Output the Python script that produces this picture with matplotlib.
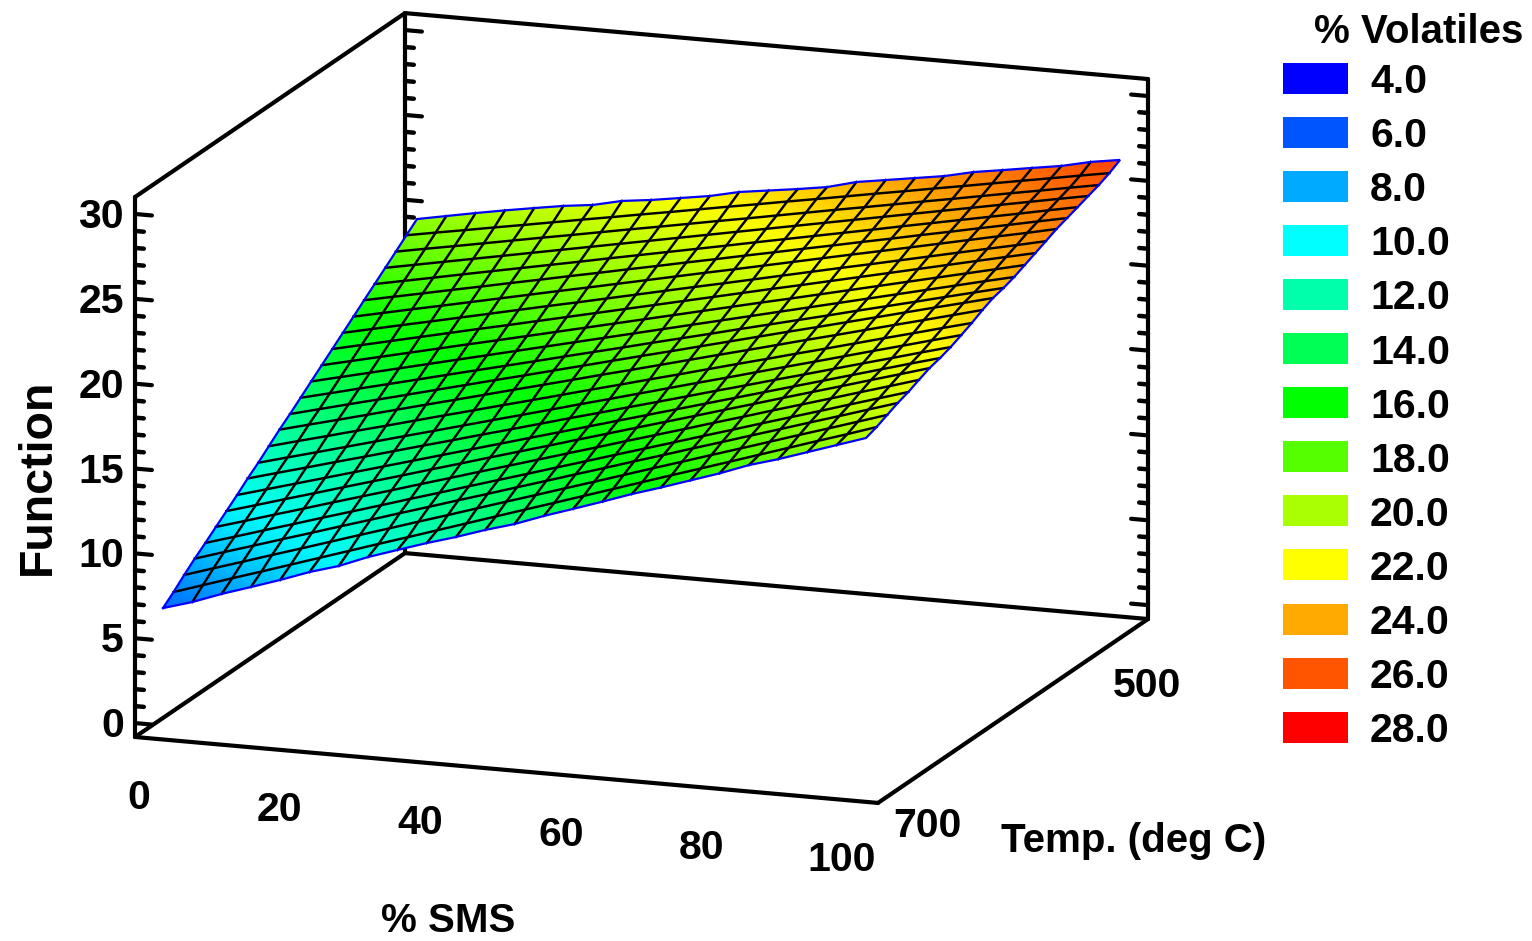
import numpy as np
import matplotlib
matplotlib.use('Agg')
import matplotlib.pyplot as plt
from matplotlib.colors import LinearSegmentedColormap, Normalize
from matplotlib.patches import Rectangle

# legend
legend_levels = [4.0, 6.0, 8.0, 10.0, 12.0, 14.0, 16.0, 18.0, 20.0, 22.0, 24.0, 26.0, 28.0]
legend_colors = ['#0000FF', '#0055FF', '#00AAFF', '#00FFFF', '#00FFAA', '#00FF55', '#00FF00',
                 '#55FF00', '#AAFF00', '#FFFF00', '#FFAA00', '#FF5500', '#FF0000']

sms_ticks = [0, 20, 40, 60, 80, 100]
temp_ticks = [700, 500]
z_ticks = [0, 5, 10, 15, 20, 25, 30]

# estimated surface heights, one row per temperature step, 700 deg C first, %SMS 0 -> 100 along each row
volatiles = [
    [6.56, 7.07, 7.70, 8.26, 8.83, 9.45, 9.96, 10.64, 11.21, 11.77, 12.28, 12.85, 13.35, 13.98, 14.55, 15.13, 15.73, 16.27, 16.84, 17.41, 18.05, 18.55, 19.12, 19.69, 20.26],
    [7.08, 7.64, 8.20, 8.75, 9.31, 9.87, 10.43, 10.99, 11.54, 12.10, 12.66, 13.22, 13.78, 14.33, 14.89, 15.45, 16.01, 16.57, 17.12, 17.68, 18.24, 18.80, 19.36, 19.91, 20.48],
    [7.66, 8.21, 8.75, 9.30, 9.84, 10.39, 10.94, 11.48, 12.03, 12.57, 13.12, 13.67, 14.21, 14.76, 15.30, 15.85, 16.40, 16.94, 17.49, 18.03, 18.58, 19.13, 19.67, 20.22, 20.77],
    [8.20, 8.74, 9.27, 9.81, 10.34, 10.88, 11.41, 11.95, 12.48, 13.02, 13.55, 14.09, 14.62, 15.16, 15.69, 16.23, 16.76, 17.30, 17.83, 18.37, 18.90, 19.44, 19.97, 20.51, 21.05],
    [8.70, 9.22, 9.75, 10.27, 10.80, 11.32, 11.84, 12.37, 12.89, 13.42, 13.94, 14.46, 14.99, 15.51, 16.04, 16.56, 17.08, 17.61, 18.13, 18.66, 19.18, 19.70, 20.23, 20.75, 21.27],
    [9.22, 9.73, 10.25, 10.76, 11.28, 11.79, 12.30, 12.82, 13.33, 13.85, 14.36, 14.87, 15.39, 15.90, 16.42, 16.93, 17.44, 17.96, 18.47, 18.99, 19.50, 20.01, 20.53, 21.04, 21.56],
    [9.73, 10.23, 10.74, 11.24, 11.75, 12.25, 12.75, 13.26, 13.76, 14.27, 14.77, 15.27, 15.78, 16.28, 16.79, 17.29, 17.79, 18.30, 18.80, 19.31, 19.81, 20.31, 20.82, 21.32, 21.83],
    [10.25, 10.74, 11.23, 11.72, 12.21, 12.70, 13.19, 13.68, 14.17, 14.66, 15.15, 15.64, 16.13, 16.62, 17.11, 17.60, 18.09, 18.58, 19.07, 19.56, 20.05, 20.54, 21.03, 21.52, 22.00],
    [10.80, 11.28, 11.75, 12.23, 12.70, 13.18, 13.66, 14.13, 14.61, 15.08, 15.56, 16.04, 16.51, 16.99, 17.46, 17.94, 18.42, 18.89, 19.37, 19.84, 20.32, 20.80, 21.27, 21.75, 22.22],
    [11.30, 11.77, 12.23, 12.70, 13.17, 13.64, 14.10, 14.57, 15.04, 15.50, 15.97, 16.44, 16.90, 17.37, 17.84, 18.31, 18.77, 19.24, 19.71, 20.17, 20.64, 21.11, 21.57, 22.04, 22.50],
    [11.85, 12.31, 12.76, 13.22, 13.67, 14.13, 14.59, 15.04, 15.50, 15.95, 16.41, 16.87, 17.32, 17.78, 18.23, 18.69, 19.15, 19.60, 20.06, 20.51, 20.97, 21.43, 21.88, 22.34, 22.79],
    [12.40, 12.85, 13.29, 13.74, 14.19, 14.64, 15.08, 15.53, 15.98, 16.42, 16.87, 17.32, 17.76, 18.21, 18.66, 19.11, 19.55, 20.00, 20.45, 20.89, 21.34, 21.79, 22.23, 22.68, 23.13],
    [12.90, 13.34, 13.78, 14.21, 14.65, 15.09, 15.53, 15.97, 16.40, 16.84, 17.28, 17.72, 18.16, 18.59, 19.03, 19.47, 19.91, 20.35, 20.78, 21.22, 21.66, 22.10, 22.54, 22.97, 23.41],
    [13.43, 13.85, 14.28, 14.70, 15.12, 15.55, 15.97, 16.39, 16.81, 17.24, 17.66, 18.08, 18.51, 18.93, 19.35, 19.78, 20.20, 20.62, 21.04, 21.47, 21.89, 22.31, 22.74, 23.16, 23.58],
    [13.97, 14.38, 14.79, 15.20, 15.61, 16.02, 16.43, 16.84, 17.25, 17.66, 18.07, 18.48, 18.89, 19.30, 19.71, 20.12, 20.53, 20.94, 21.35, 21.76, 22.17, 22.58, 22.99, 23.40, 23.80],
    [14.50, 14.90, 15.30, 15.70, 16.10, 16.50, 16.89, 17.29, 17.69, 18.09, 18.49, 18.89, 19.29, 19.69, 20.09, 20.49, 20.88, 21.28, 21.68, 22.08, 22.48, 22.88, 23.28, 23.68, 24.08],
    [15.03, 15.42, 15.81, 16.20, 16.59, 16.98, 17.36, 17.75, 18.14, 18.53, 18.92, 19.31, 19.70, 20.09, 20.48, 20.87, 21.25, 21.64, 22.03, 22.42, 22.81, 23.20, 23.59, 23.98, 24.36],
    [15.56, 15.94, 16.32, 16.69, 17.07, 17.45, 17.83, 18.21, 18.58, 18.96, 19.34, 19.72, 20.10, 20.47, 20.85, 21.23, 21.61, 21.99, 22.36, 22.74, 23.12, 23.50, 23.88, 24.25, 24.64],
    [16.09, 16.46, 16.83, 17.19, 17.56, 17.93, 18.30, 18.67, 19.03, 19.40, 19.77, 20.14, 20.51, 20.87, 21.24, 21.61, 21.98, 22.35, 22.71, 23.08, 23.45, 23.82, 24.19, 24.55, 24.93],
    [16.63, 16.99, 17.34, 17.70, 18.05, 18.41, 18.76, 19.12, 19.47, 19.83, 20.18, 20.54, 20.89, 21.25, 21.60, 21.96, 22.31, 22.67, 23.02, 23.38, 23.73, 24.09, 24.44, 24.80, 25.15],
    [17.16, 17.50, 17.84, 18.19, 18.53, 18.87, 19.21, 19.55, 19.90, 20.24, 20.58, 20.92, 21.26, 21.61, 21.95, 22.29, 22.63, 22.97, 23.32, 23.66, 24.00, 24.34, 24.68, 25.03, 25.37],
    [17.69, 18.02, 18.35, 18.68, 19.01, 19.34, 19.67, 20.00, 20.33, 20.66, 20.99, 21.32, 21.65, 21.98, 22.31, 22.64, 22.97, 23.30, 23.63, 23.96, 24.29, 24.62, 24.95, 25.28, 25.60],
    [18.22, 18.54, 18.85, 19.17, 19.49, 19.81, 20.12, 20.44, 20.76, 21.07, 21.39, 21.71, 22.02, 22.34, 22.66, 22.98, 23.29, 23.61, 23.93, 24.24, 24.56, 24.88, 25.19, 25.51, 25.82],
    [18.76, 19.07, 19.37, 19.68, 19.98, 20.29, 20.60, 20.90, 21.21, 21.51, 21.82, 22.13, 22.43, 22.74, 23.04, 23.35, 23.66, 23.96, 24.27, 24.57, 24.88, 25.19, 25.49, 25.80, 26.10],
    [19.29, 19.62, 19.95, 20.26, 20.55, 20.83, 21.04, 21.43, 21.64, 21.91, 22.18, 22.57, 22.81, 23.05, 23.32, 23.77, 24.04, 24.31, 24.58, 24.97, 25.24, 25.52, 25.79, 26.18, 26.45],
]

# box limits of the 3D frame
sms_lo, sms_hi = -2.84, 102.84
temp_lo, temp_hi = 706.3, 493.7
z_lo, z_hi = -0.82, 31.0


def project(sms, temp, z):
    # fixed oblique view of the statgraphics plot, returns figure pixels
    sms, temp, z = np.asarray(sms, float), np.asarray(temp, float), np.asarray(z, float)
    x = 163 + 7.03 * sms + 1.27 * (700 - temp)
    y = 719.4 + 0.624 * sms - 0.865 * (700 - temp) - 16.97 * z
    return x, y


def edge(ax, a, b, **kw):
    xs, ys = project(*np.array([a, b]).T)
    ax.plot(xs, ys, solid_capstyle='round', **kw)


fig = plt.figure(figsize=(15.32, 9.41), dpi=100)
ax = fig.add_axes([0, 0, 1, 1])
ax.set_xlim(0, 1532)
ax.set_ylim(941, 0)
ax.axis('off')

# frame
frame = dict(color='black', lw=3.0, zorder=1)
edge(ax, (sms_lo, temp_lo, z_lo), (sms_hi, temp_lo, z_lo), **frame)
edge(ax, (sms_lo, temp_hi, z_lo), (sms_hi, temp_hi, z_lo), **frame)
edge(ax, (sms_lo, temp_lo, z_lo), (sms_lo, temp_hi, z_lo), **frame)
edge(ax, (sms_hi, temp_lo, z_lo), (sms_hi, temp_hi, z_lo), **frame)
edge(ax, (sms_lo, temp_hi, z_hi), (sms_hi, temp_hi, z_hi), **frame)
edge(ax, (sms_lo, temp_lo, z_hi), (sms_lo, temp_hi, z_hi), **frame)
edge(ax, (sms_lo, temp_lo, z_lo), (sms_lo, temp_lo, z_hi), **frame)
edge(ax, (sms_lo, temp_hi, z_lo), (sms_lo, temp_hi, z_hi), **frame)
edge(ax, (sms_hi, temp_hi, z_lo), (sms_hi, temp_hi, z_hi), **frame)

# z ticks on the three upright edges
for zt in range(0, 31):
    major = zt % 5 == 0
    ln = 2.4 if major else 1.25
    lw = 3.0 if major else 3.2
    edge(ax, (sms_lo, temp_lo, zt), (sms_lo + ln, temp_lo, zt), color='black', lw=lw, zorder=1)
    edge(ax, (sms_lo, temp_hi, zt), (sms_lo + ln, temp_hi, zt), color='black', lw=lw, zorder=1)
    edge(ax, (sms_hi, temp_hi, zt), (sms_hi - ln, temp_hi, zt), color='black', lw=lw, zorder=1)

# surface
cmap = LinearSegmentedColormap.from_list('volatiles', legend_colors)
norm = Normalize(legend_levels[0], legend_levels[-1])
Z = np.array(volatiles)
sms_nodes = np.linspace(0, 100, Z.shape[1])
temp_nodes = np.linspace(700, 500, Z.shape[0])
S, T = np.meshgrid(sms_nodes, temp_nodes)
X, Y = project(S, T, Z)
ax.pcolormesh(X, Y, Z, shading='gouraud', cmap=cmap, norm=norm, zorder=2)
ax.plot(X[1:-1].T, Y[1:-1].T, color='black', lw=1.75, zorder=3)
ax.plot(X[:, 1:-1], Y[:, 1:-1], color='black', lw=1.75, zorder=3)
rim_x = np.r_[X[0], X[1:, -1], X[-1, -2::-1], X[-2::-1, 0]]
rim_y = np.r_[Y[0], Y[1:, -1], Y[-1, -2::-1], Y[-2::-1, 0]]
ax.plot(rim_x, rim_y, color='#0000FF', lw=1.6, zorder=4, solid_joinstyle='miter')

# tick labels
tick_font = dict(family='Liberation Sans', fontweight='bold', fontsize=29.5, color='black')
title_font = dict(tick_font, fontsize=29)
for zt in z_ticks:
    _, yt = project(sms_lo, temp_lo, zt)
    ax.text(124, yt + 14, str(zt), ha='right', va='baseline', **tick_font)
for s in sms_ticks:
    xs, ys = project(s, temp_lo, z_lo)
    ax.text(xs - 16, ys + 70, str(s), ha='center', va='baseline', **tick_font)
temp_offsets = {700: (41, 40), 500: (7, 73)}
for t in temp_ticks:
    xs, ys = project(sms_hi, t, z_lo)
    ax.text(xs + temp_offsets[t][0], ys + temp_offsets[t][1], str(t), ha='center', va='baseline', **tick_font)

# axis titles
ax.text(1134, 852, 'Temp. (deg C)', ha='center', va='baseline', **title_font)
ax.text(448, 932, '% SMS', ha='center', va='baseline', **title_font)
ax.text(50, 477, 'Function', rotation=90, ha='center', va='baseline', rotation_mode='anchor',
        family='Liberation Sans', fontweight='bold', fontsize=33.5)

# legend
ax.text(1419, 43, '% Volatiles', ha='center', va='baseline', **title_font)
for k, (lev, col) in enumerate(zip(legend_levels, legend_colors)):
    yc = 78 + 54.1 * k
    ax.add_patch(Rectangle((1283, yc - 15.5), 65, 31, facecolor=col, edgecolor='none', zorder=2))
    ax.text(1370, yc + 15, f'{lev:.1f}', ha='left', va='baseline', **tick_font)

fig.savefig('out.png', dpi=100)
